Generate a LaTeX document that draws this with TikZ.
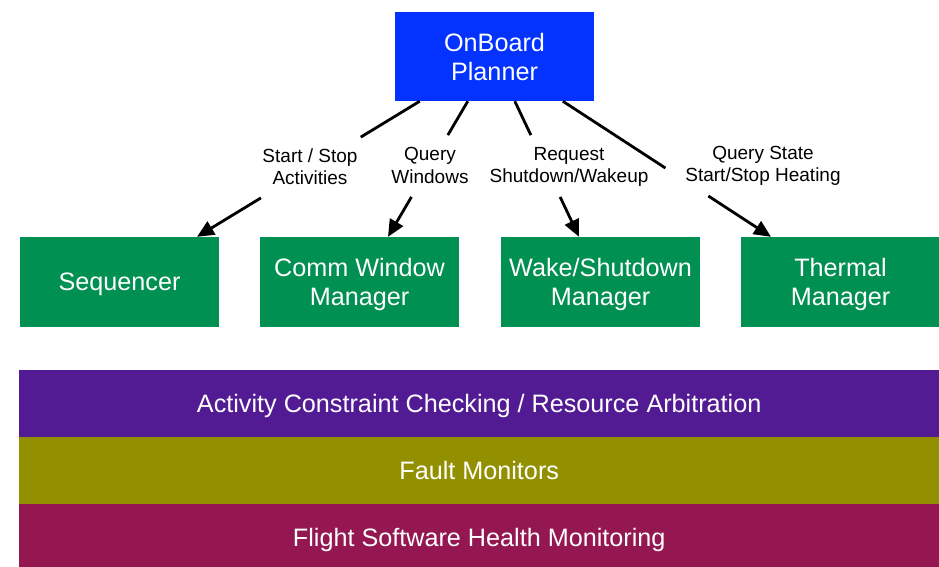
\documentclass[tikz,border=0pt]{standalone}
\usepackage{fontspec}
\setmainfont{Liberation Sans}
\usetikzlibrary{arrows.meta,calc}
\definecolor{planblue}{RGB}{4,51,255}
\definecolor{mgrgreen}{RGB}{0,144,81}
\definecolor{layerpurple}{RGB}{83,27,147}
\definecolor{layerolive}{RGB}{146,144,0}
\definecolor{layermaroon}{RGB}{148,23,81}
\begin{document}
\begin{tikzpicture}[x=1pt,y=-1pt,
  block/.style={text=white, align=center, inner sep=0pt, text depth=0pt,
    font=\fontsize{25.2}{29}\selectfont},
  mgr/.style={block, fill=mgrgreen, minimum width=199pt, minimum height=90pt},
  layer/.style={block, minimum width=920pt, minimum height=67pt},
  seg/.style={line width=2.8pt},
  conn/.style={seg, -{Triangle[length=17pt,width=15pt]}},
  lbl/.style={align=center, inner sep=0pt,
    font=\fontsize{19}{22.5}\selectfont}
]
\useasboundingbox (0,0) rectangle (939,566);

% planner and managers
\node[block, fill=planblue, minimum width=199pt, minimum height=89pt] (planner) at (494.5,56.5) {OnBoard\\Planner};
\node[mgr] (seq)  at (119.5,282) {Sequencer};
\node[mgr] (comm) at (359.5,282) {Comm Window\\Manager};
\node[mgr] (wake) at (600.5,282) {Wake/Shutdown\\Manager};
\node[mgr] (therm) at (840.5,282) {Thermal\\Manager};

% layered services
\node[layer, fill=layerpurple, anchor=north west] (arb) at (19,370) {Activity Constraint Checking / Resource Arbitration};
\node[layer, fill=layerolive, anchor=north west] (fault) at (19,437) {Fault Monitors};
\node[layer, fill=layermaroon, anchor=north west] (health) at (19,504) {Flight Software Health Monitoring};

% connector end points on the planner and on the managers
\coordinate (s1) at ($(planner.south west)+(25,0)$);
\coordinate (s2) at ($(planner.south west)+(73,0)$);
\coordinate (s3) at ($(planner.south west)+(120,0)$);
\coordinate (s4) at ($(planner.south west)+(168,0)$);
\coordinate (e1) at ($(seq.north)+(77.5,0)$);
\coordinate (e2) at ($(comm.north)+(28.5,0)$);
\coordinate (e3) at ($(wake.north)+(-21.5,0)$);
\coordinate (e4) at ($(therm.north)+(-69.5,0)$);

% commands from the planner, broken around their labels
\draw[seg]  (s1) -- ($(s1)!0.265!(e1)$);
\draw[conn] ($(s1)!0.713!(e1)$) -- (e1);
\draw[seg]  (s2) -- ($(s2)!0.25!(e2)$);
\draw[conn] ($(s2)!0.706!(e2)$) -- (e2);
\draw[seg]  (s3) -- ($(s3)!0.25!(e3)$);
\draw[conn] ($(s3)!0.706!(e3)$) -- (e3);
\draw[seg]  (s4) -- ($(s4)!0.493!(e4)$);
\draw[conn] ($(s4)!0.699!(e4)$) -- (e4);

% connector labels
\node[lbl] (l1) at (310,166.5) {Start / Stop\\Activities};
\node[lbl] (l2) at (430,165.5) {Query\\Windows};
\node[lbl] (l3) at (569,167) {Request\\Shutdown/Wakeup};
\node[lbl] (l4) at (763,166) {Query State\\Start/Stop Heating};
\end{tikzpicture}
\end{document}
